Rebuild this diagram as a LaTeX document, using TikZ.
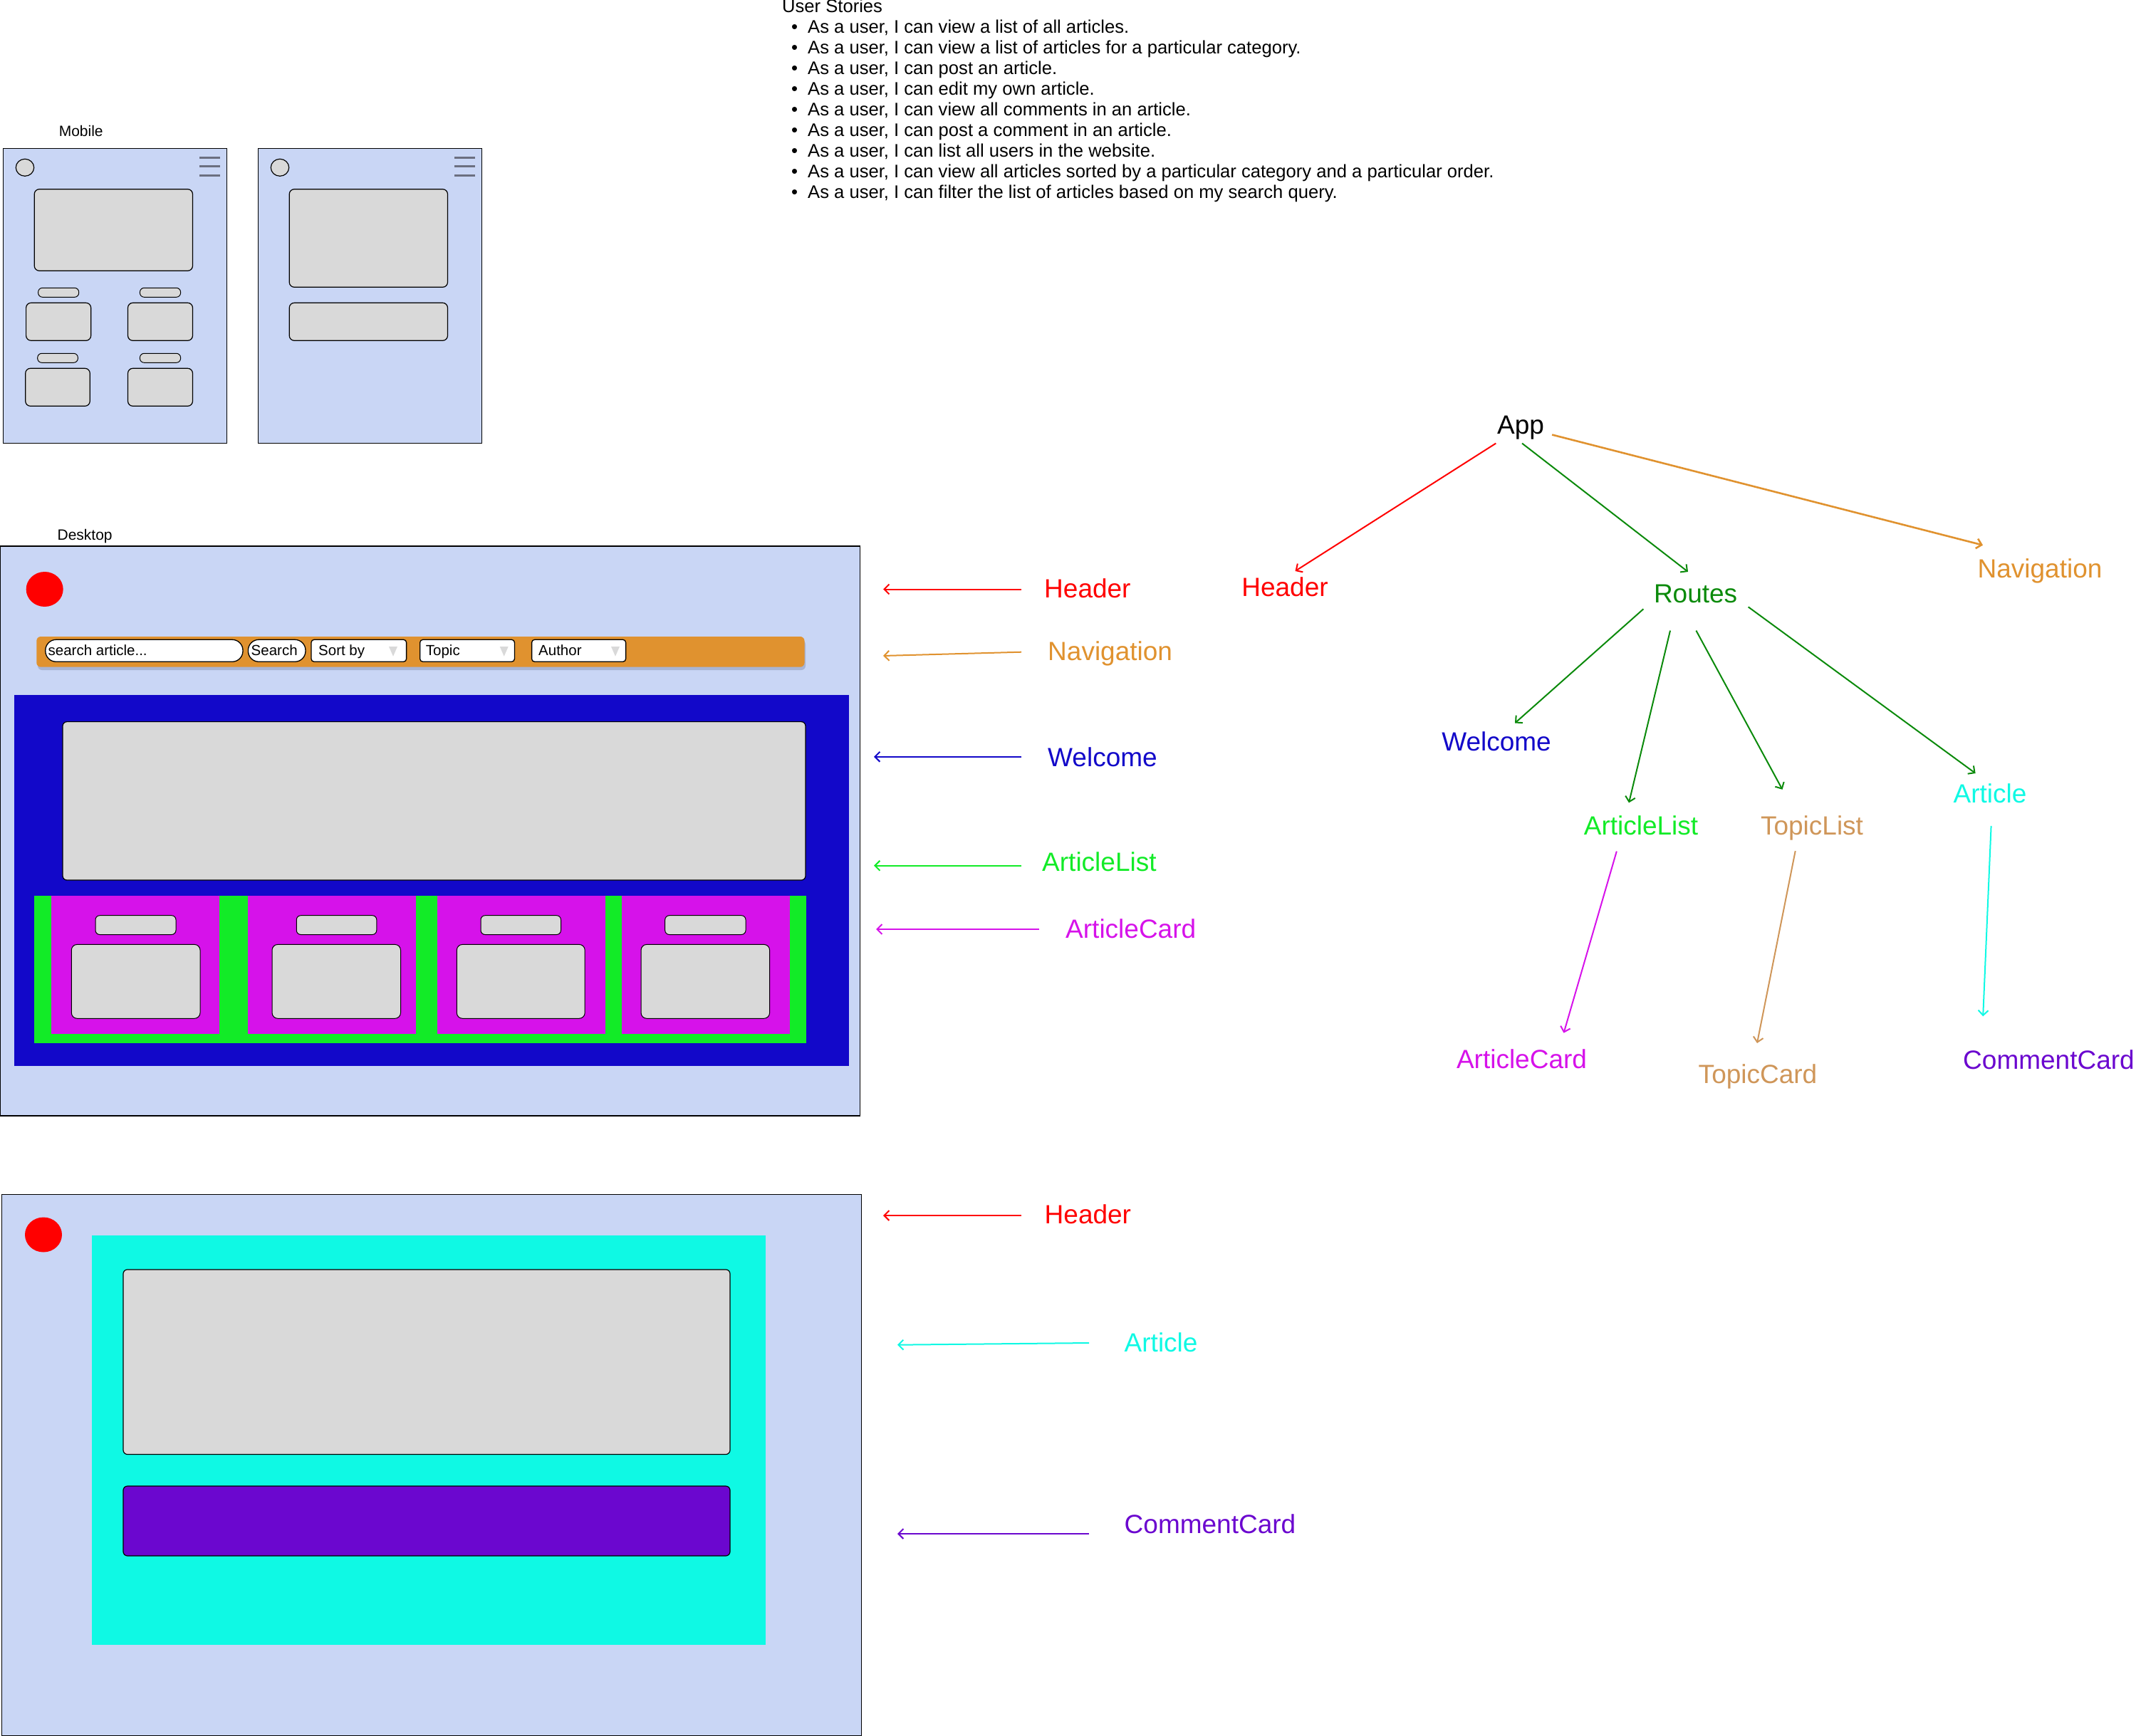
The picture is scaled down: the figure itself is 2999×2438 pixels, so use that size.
\documentclass[tikz,border=0pt]{standalone}
\usepackage{fontspec}
\setmainfont{Liberation Sans}
\usetikzlibrary{arrows.meta,calc}

\definecolor{screen}{HTML}{C9D6F5}
\definecolor{phgray}{HTML}{D9D9D9}
\definecolor{burger}{HTML}{6B6F80}
\definecolor{navorange}{HTML}{E0922F}
\definecolor{welblue}{HTML}{1208C9}
\definecolor{listgreen}{HTML}{12EB27}
\definecolor{cardmag}{HTML}{D612EA}
\definecolor{artcyan}{HTML}{0FF9E4}
\definecolor{compurple}{HTML}{6B07CF}
\definecolor{topictan}{HTML}{CF9659}
\definecolor{routegreen}{HTML}{0B8A0B}
\definecolor{hdrred}{HTML}{FF0000}
\definecolor{shadowc}{HTML}{9AA6C6}

\tikzset{
  screenbox/.style={draw=black,line width=1.2pt,fill=screen},
  ph/.style={draw=black,line width=1.2pt,fill=phgray,rounded corners=7pt},
  phsmall/.style={draw=black,line width=1pt,fill=phgray,rounded corners=6pt},
  ctrl/.style={draw=black,line width=1.3pt,fill=white,rounded corners=4pt},
  pill/.style={draw=black,line width=1.3pt,fill=white,rounded corners=15pt},
  ddtri/.style={fill=phgray},
  ctrltext/.style={inner sep=0pt,anchor=base west,font=\fontsize{20.5}{24}\selectfont},
  smalltitle/.style={inner sep=0pt,anchor=base west,font=\fontsize{21}{25}\selectfont},
  story/.style={inner sep=0pt,anchor=base west,font=\fontsize{25.6}{29}\selectfont},
  comp/.style={inner sep=0pt,font=\fontsize{37}{44}\selectfont},
  arr/.style={line width=2pt,-{Straight Barb[length=7pt,width=14pt]}},
}

\begin{document}
\begin{tikzpicture}[x=1pt,y=-1pt]
\useasboundingbox (0,0) rectangle (2999,2438);

% ---------- user stories ----------
\node[story] (ustitle) at (1098,17.3) {User Stories};
\foreach \txt [count=\i from 0] in {
  {As a user, I can view a list of all articles.},
  {As a user, I can view a list of articles for a particular category.},
  {As a user, I can post an article.},
  {As a user, I can edit my own article.},
  {As a user, I can view all comments in an article.},
  {As a user, I can post a comment in an article.},
  {As a user, I can list all users in the website.},
  {As a user, I can view all articles sorted by a particular category and a particular order.},
  {As a user, I can filter the list of articles based on my search query.}}{
  \node[story] (usb\i) at (1111,46.7+29*\i) {•};
  \node[story] (us\i) at (1134,46.7+29*\i) {\txt};
}

% ---------- mobile wireframes ----------
\node[smalltitle] (mobtitle) at (82.6,191.7) {Mobile};

% first phone: article list
\draw[screenbox] (4.5,208.3) rectangle (318.7,622.7);
\draw[draw=black,line width=1.2pt,fill=phgray] (35,235.3) ellipse [x radius=12.7,y radius=12];
\foreach \yy in {221.3,233.3,246.3}
  \draw[burger,line width=3pt] (280,\yy) -- (309,\yy);
\draw[ph] (48.2,265.7) rectangle (270.5,380.3);
\draw[phsmall] (53.6,404.3) rectangle (110.7,417.3);
\draw[phsmall] (196.4,404.3) rectangle (253.6,417.3);
\draw[ph] (36.6,425.3) rectangle (127.7,478.3);
\draw[ph] (179.5,425.3) rectangle (270.5,478.3);
\draw[phsmall] (52.7,496.3) rectangle (109.4,509.3);
\draw[phsmall] (196.4,496.3) rectangle (253.6,509.3);
\draw[ph] (35.7,517.3) rectangle (126.3,570.3);
\draw[ph] (179.5,517.3) rectangle (270.5,570.3);

% second phone: single article
\draw[screenbox] (362.5,208.3) rectangle (676.3,622.7);
\draw[draw=black,line width=1.2pt,fill=phgray] (393,235.3) ellipse [x radius=12.7,y radius=12];
\foreach \yy in {221.3,233.3,246.3}
  \draw[burger,line width=3pt] (638,\yy) -- (667,\yy);
\draw[ph] (406.2,265.7) rectangle (628.5,403.3);
\draw[ph] (406.2,425.3) rectangle (628.5,478.3);

% ---------- desktop: article list page ----------
\node[smalltitle] (desktitle) at (80.4,758) {Desktop};
\draw[screenbox] (0.8,767) rectangle (1207.3,1567);
\fill[hdrred] (62.7,827.5) ellipse [x radius=26,y radius=24.5];

% navigation bar
\fill[shadowc,opacity=0.7,rounded corners=6pt] (53,899) rectangle (1131,941);
\fill[navorange,rounded corners=6pt] (51.3,894) rectangle (1129.5,936.7);
\draw[pill] (63.8,898.3) rectangle (341,929.3);
\node[ctrltext] (searchfield) at (67.5,920) {search article...};
\draw[pill] (348.4,898.3) rectangle (429,929.3);
\node[ctrltext] (searchbtn) at (352.5,920) {Search};
\draw[ctrl] (437,898.3) rectangle (570.6,929.3);
\node[ctrltext] (sortby) at (447,920) {Sort by};
\fill[ddtri] (546,908) -- (558,908) -- (552,921.7) -- cycle;
\draw[ctrl] (589.7,898.3) rectangle (722.4,929.3);
\node[ctrltext] (topicsel) at (597.7,920) {Topic};
\fill[ddtri] (701.7,908) -- (713.7,908) -- (707.7,921.7) -- cycle;
\draw[ctrl] (746.6,898.3) rectangle (878.6,929.3);
\node[ctrltext] (authorsel) at (756,920) {Author};
\fill[ddtri] (858,908) -- (870,908) -- (864,921.7) -- cycle;

% welcome block
\fill[welblue] (19.9,976) rectangle (1192.3,1496.8);
\draw[ph,rounded corners=6pt] (88,1013.6) rectangle (1131,1236);
% article list with cards
\fill[listgreen] (48.2,1257.5) rectangle (1131.9,1464.6);
\foreach \cl/\cr/\pl/\pr/\bl/\br in {
   72/307.6/134/247/100.3/281,
   348.2/584/416.3/528.8/382/562.5,
   613.8/850.3/675/787.5/641.3/821.2,
   873.2/1109/933.7/1047/900/1080.6}{
  \fill[cardmag] (\cl,1257.5) rectangle (\cr,1451.7);
  \draw[phsmall] (\pl,1285.7) rectangle (\pr,1312.5);
  \draw[phsmall,rounded corners=8pt] (\bl,1326.4) rectangle (\br,1430.3);
}

% ---------- desktop: single article page ----------
\draw[screenbox] (2.4,1677.4) rectangle (1209.3,2437.3);
\fill[hdrred] (61,1734) ellipse [x radius=26,y radius=24.5];
\fill[artcyan] (129,1735) rectangle (1074.6,2310);
\draw[ph,rounded corners=6pt] (173,1782.9) rectangle (1025,2042.5);
\draw[draw=black,line width=1.2pt,fill=compurple,rounded corners=6pt] (173,2087) rectangle (1025,2185);

% ---------- component labels beside the wireframes ----------
\node[comp,anchor=base west,text=hdrred] (mHdr1) at (1466,839) {Header};
\node[comp,anchor=base west,text=navorange] (mNav) at (1471,927) {Navigation};
\node[comp,anchor=base west,text=welblue] (mWel) at (1471,1076) {Welcome};
\node[comp,anchor=base west,text=listgreen] (mAL) at (1463,1223) {ArticleList};
\node[comp,anchor=base west,text=cardmag] (mAC) at (1496,1317.5) {ArticleCard};
\node[comp,anchor=base west,text=hdrred] (mHdr2) at (1466.5,1718) {Header};
\node[comp,anchor=base west,text=artcyan] (mArt) at (1578.5,1898) {Article};
\node[comp,anchor=base west,text=compurple] (mCC) at (1578.5,2153) {CommentCard};

\coordinate (eHdr1) at (1240,827.5);
\coordinate (eNav) at (1240,921);
\coordinate (eWel) at (1227,1062.8);
\coordinate (eAL) at (1227,1215.7);
\coordinate (eAC) at (1230,1305);
\coordinate (eHdr2) at (1240,1707);
\coordinate (eArt) at (1260,1888.7);
\coordinate (eCC) at (1260,2154);

\draw[arr,hdrred] ($(mHdr1.base west)+(-32,-11.5)$) -- (eHdr1);
\draw[arr,navorange] ($(mNav.base west)+(-37,-11.3)$) -- (eNav);
\draw[arr,welblue] ($(mWel.base west)+(-37,-13.2)$) -- (eWel);
\draw[arr,listgreen] ($(mAL.base west)+(-29,-7.3)$) -- (eAL);
\draw[arr,cardmag] ($(mAC.base west)+(-37,-12.5)$) -- (eAC);
\draw[arr,hdrred] ($(mHdr2.base west)+(-33,-11)$) -- (eHdr2);
\draw[arr,artcyan] ($(mArt.base west)+(-49.5,-12)$) -- (eArt);
\draw[arr,compurple] ($(mCC.base west)+(-49.5,1)$) -- (eCC);

% ---------- component tree ----------
\node[comp,anchor=base] (app) at (2135,609) {App};
\node[comp,anchor=base,text=hdrred] (hdrT) at (1804,837) {Header};
\node[comp,anchor=base,text=routegreen] (rts) at (2380.6,846.7) {Routes};
\node[comp,anchor=base,text=navorange] (navT) at (2864,811) {Navigation};
\node[comp,anchor=base,text=welblue] (welT) at (2101,1054) {Welcome};
\node[comp,anchor=base,text=listgreen] (alT) at (2304,1172) {ArticleList};
\node[comp,anchor=base,text=topictan] (tlT) at (2544,1172) {TopicList};
\node[comp,anchor=base,text=artcyan] (artT) at (2794,1127.4) {Article};
\node[comp,anchor=base,text=cardmag] (acT) at (2136.5,1500) {ArticleCard};
\node[comp,anchor=base,text=topictan] (tcT) at (2468,1521.7) {TopicCard};
\node[comp,anchor=base west,text=compurple] (ccT) at (2756,1501.7) {CommentCard};

\draw[arr,hdrred] ($(app.south west)+(-1.6,5.7)$) -- ($(hdrT.north)+(14.5,-8)$);
\draw[arr,routegreen] ($(app.south)+(2,5.7)$) -- ($(rts.north)+(-10.6,-18)$);
\draw[arr,navorange,line width=2.6pt] ($(app.east)+(11,10.4)$) -- ($(navT.north)+(-80,-18.4)$);
\draw[arr,routegreen] ($(rts.south west)+(-14.4,8)$) -- ($(welT.north)+(26,-11.5)$);
\draw[arr,routegreen] ($(rts.south)+(-35.6,38.3)$) -- ($(alT.north)+(-17,-17.6)$);
\draw[arr,routegreen] ($(rts.south)+(0.8,38.3)$) -- ($(tlT.north)+(-41.5,-36.2)$);
\draw[arr,routegreen] ($(rts.south east)+(15.2,5.1)$) -- ($(artT.north)+(-20.4,-14.4)$);
\draw[arr,cardmag] ($(alT.south)+(-34.2,23)$) -- ($(acT.north)+(59,-22.3)$);
\draw[arr,topictan] ($(tlT.south)+(-23.3,15.2)$) -- ($(tcT.north)+(-1,-29.7)$);
\draw[arr,artcyan] ($(artT.south)+(1.6,31.9)$) -- ($(ccT.north)+(-92.3,-47.4)$);
\end{tikzpicture}
\end{document}
